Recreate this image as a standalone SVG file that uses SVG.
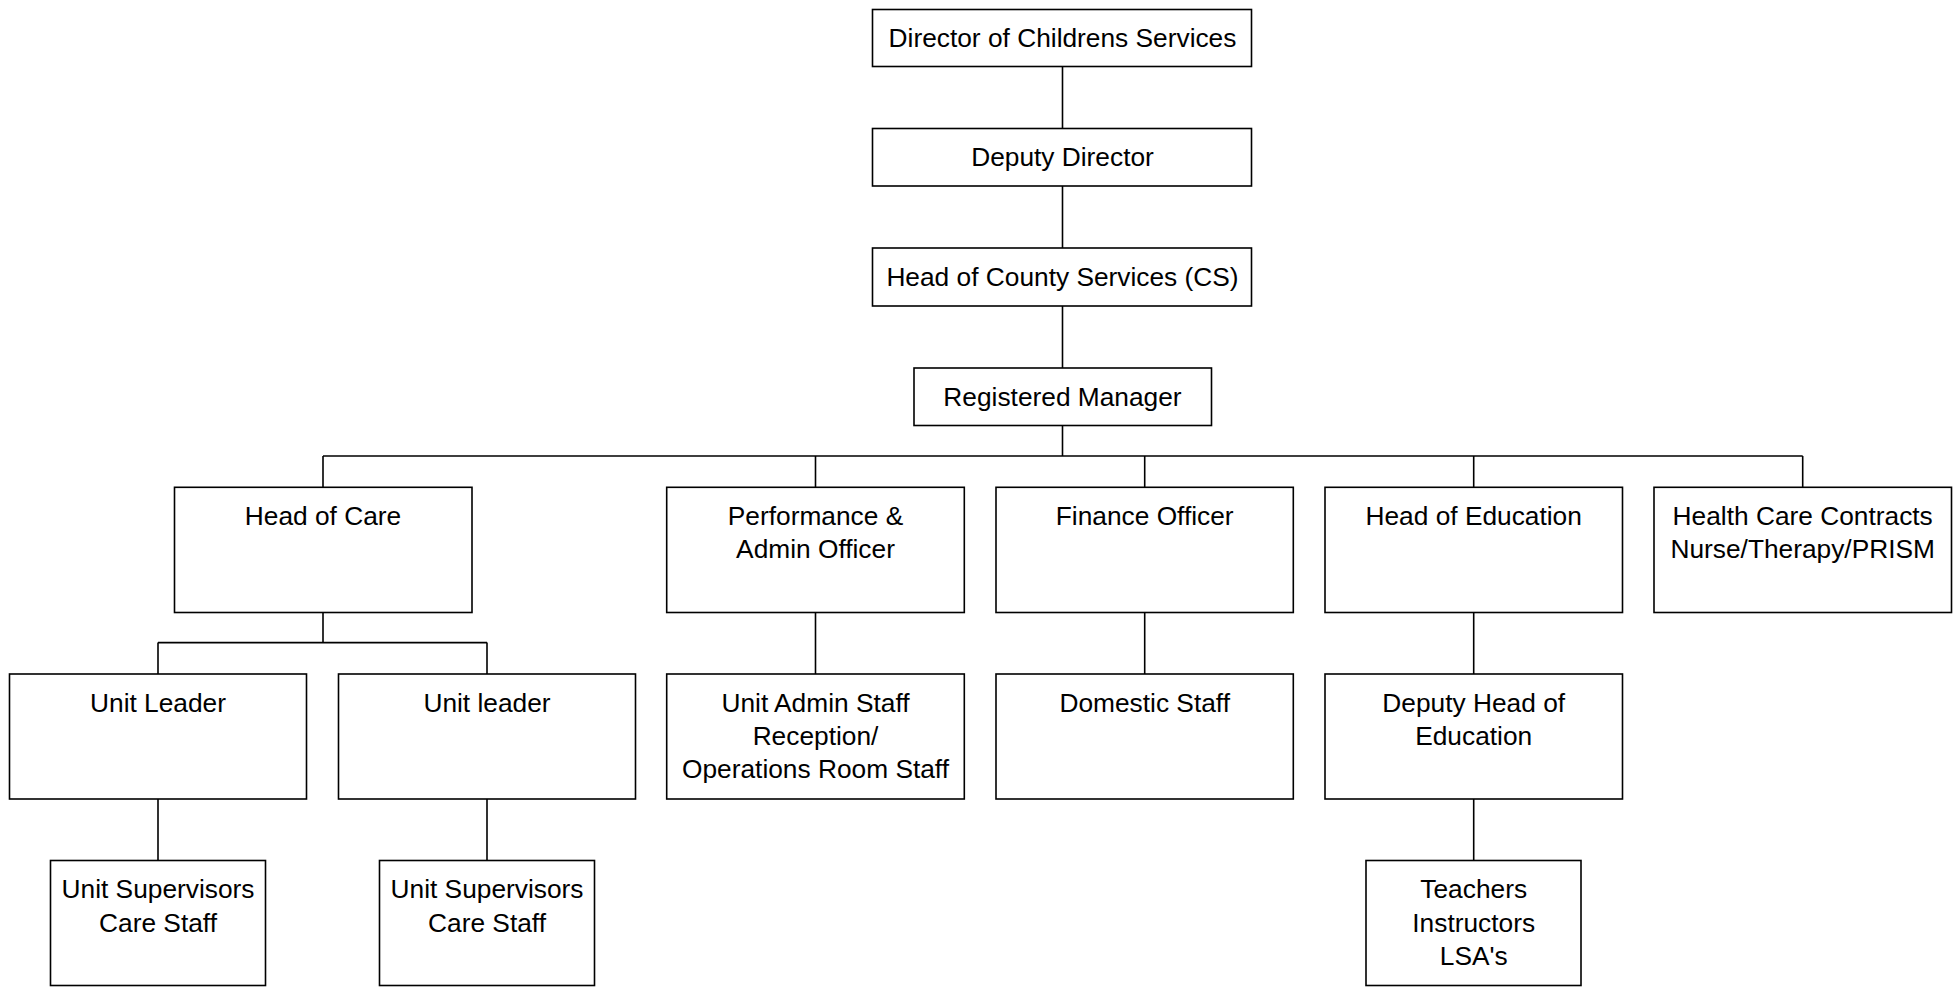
<svg xmlns="http://www.w3.org/2000/svg" width="1955" height="993" viewBox="0 0 1955 993">
<style>
.box{fill:#fff;stroke:#000;stroke-width:1.6}
.ln{fill:none;stroke:#000;stroke-width:1.6}
text{font-family:"Liberation Sans",Arial,sans-serif;font-size:26.3px;fill:#000;text-anchor:middle}
</style>
<rect width="1955" height="993" fill="#fff"/>
<g id="connectors" class="ln">
<path d="M1062.5 66.5V128.5M1062.5 186V248M1062.5 306V368M1062.5 425.5V456"/>
<path d="M323 456H1802.7M323 456V487.3M815.5 456V487.3M1144.7 456V487.3M1473.7 456V487.3M1802.7 456V487.3"/>
<path d="M323 612.5V642.6M158 642.6H487M158 642.6V674M487 642.6V674"/>
<path d="M158 799V860.5M487 799V860.5"/>
<path d="M815.5 612.5V674M1144.7 612.5V674M1473.7 612.5V674M1473.7 799V860.5"/>
</g>
<g id="director"><rect class="box" x="872.5" y="9.5" width="379" height="57"/><text x="1062.5" y="47">Director of Childrens Services</text></g>
<g id="deputy-director"><rect class="box" x="872.5" y="128.5" width="379" height="57.5"/><text x="1062.5" y="166">Deputy Director</text></g>
<g id="head-county"><rect class="box" x="872.5" y="248" width="379" height="58"/><text x="1062.5" y="286">Head of County Services (CS)</text></g>
<g id="registered-manager"><rect class="box" x="914" y="368" width="297.5" height="57.5"/><text x="1062.5" y="406">Registered Manager</text></g>
<g id="head-care"><rect class="box" x="174.5" y="487.3" width="297.5" height="125.2"/><text x="323" y="525">Head of Care</text></g>
<g id="performance"><rect class="box" x="666.7" y="487.3" width="297.6" height="125.2"/><text x="815.5" y="525">Performance &amp;</text><text x="815.5" y="558.3">Admin Officer</text></g>
<g id="finance"><rect class="box" x="996" y="487.3" width="297.3" height="125.2"/><text x="1144.7" y="525">Finance Officer</text></g>
<g id="head-education"><rect class="box" x="1325" y="487.3" width="297.5" height="125.2"/><text x="1473.7" y="525">Head of Education</text></g>
<g id="health-care"><rect class="box" x="1654" y="487.3" width="297.5" height="125.2"/><text x="1802.7" y="525">Health Care Contracts</text><text x="1802.7" y="558.3">Nurse/Therapy/PRISM</text></g>
<g id="unit-leader-1"><rect class="box" x="9.5" y="674" width="297" height="125"/><text x="158" y="711.7">Unit Leader</text></g>
<g id="unit-leader-2"><rect class="box" x="338.5" y="674" width="297" height="125"/><text x="487" y="711.7">Unit leader</text></g>
<g id="unit-admin"><rect class="box" x="666.7" y="674" width="297.6" height="125"/><text x="815.5" y="711.7">Unit Admin Staff</text><text x="815.5" y="745">Reception/</text><text x="815.5" y="778.3">Operations Room Staff</text></g>
<g id="domestic"><rect class="box" x="996" y="674" width="297.3" height="125"/><text x="1144.7" y="711.7">Domestic Staff</text></g>
<g id="deputy-head-education"><rect class="box" x="1325" y="674" width="297.5" height="125"/><text x="1473.7" y="711.7">Deputy Head of</text><text x="1473.7" y="745">Education</text></g>
<g id="supervisors-1"><rect class="box" x="50.5" y="860.5" width="215" height="125"/><text x="158" y="898.2">Unit Supervisors</text><text x="158" y="931.5">Care Staff</text></g>
<g id="supervisors-2"><rect class="box" x="379.5" y="860.5" width="215" height="125"/><text x="487" y="898.2">Unit Supervisors</text><text x="487" y="931.5">Care Staff</text></g>
<g id="teachers"><rect class="box" x="1366" y="860.5" width="215" height="125"/><text x="1473.7" y="898.2">Teachers</text><text x="1473.7" y="931.5">Instructors</text><text x="1473.7" y="964.8">LSA's</text></g>
</svg>
